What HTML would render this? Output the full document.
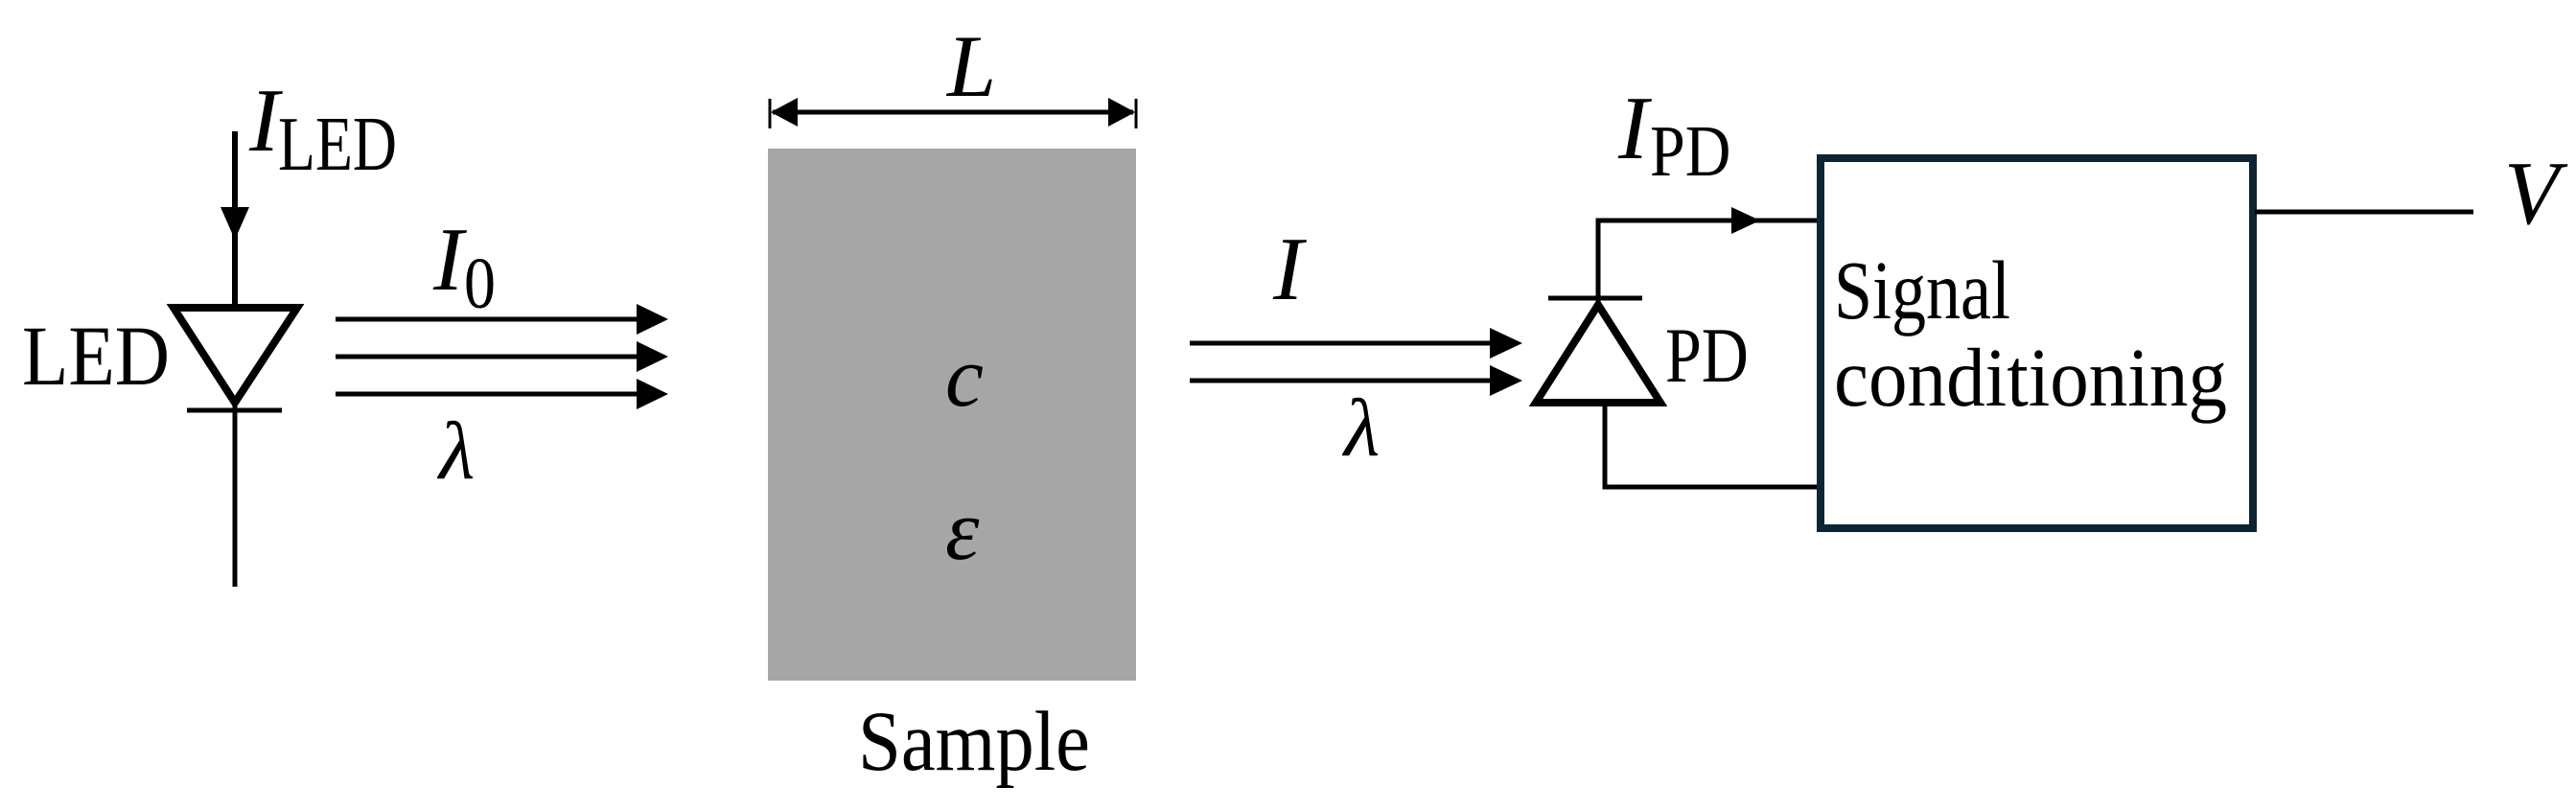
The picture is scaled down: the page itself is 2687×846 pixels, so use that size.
<!DOCTYPE html>
<html><head><meta charset="utf-8"><style>
html,body{margin:0;padding:0;background:#fff;}
svg{display:block;}
text{font-family:"Liberation Serif",serif;fill:#000;}
.it{font-style:italic;}
</style></head><body>
<svg width="2687" height="846" viewBox="0 0 2687 846" xmlns="http://www.w3.org/2000/svg">
<rect width="2687" height="846" fill="#fff"/>
<!-- LED -->
<line x1="245" y1="137" x2="245" y2="320" stroke="#000" stroke-width="6"/>
<polygon points="230,216 260,216 245,250" fill="#000"/>
<polygon points="181,321 310,321 245,420" fill="none" stroke="#000" stroke-width="8" stroke-linejoin="miter"/>
<line x1="195" y1="428" x2="294" y2="428" stroke="#000" stroke-width="5"/>
<line x1="245" y1="420" x2="245" y2="612" stroke="#000" stroke-width="5"/>
<text x="260" y="157" class="it" font-size="94">I</text>
<text transform="translate(290,177) scale(1,1.15)" font-size="70" textLength="124" lengthAdjust="spacingAndGlyphs">LED</text>
<text transform="translate(23,401) scale(1,1.2)" font-size="74" textLength="154" lengthAdjust="spacingAndGlyphs">LED</text>
<!-- LED beams -->
<g stroke="#000" stroke-width="5">
<line x1="350" y1="333" x2="670" y2="333"/>
<line x1="350" y1="372" x2="670" y2="372"/>
<line x1="350" y1="411" x2="670" y2="411"/>
</g>
<polygon points="664,317 697,333 664,349" fill="#000"/>
<polygon points="664,356 697,372 664,388" fill="#000"/>
<polygon points="664,395 697,411 664,427" fill="#000"/>
<text x="452" y="302" class="it" font-size="94">I</text>
<text transform="translate(484,321) scale(1,1.15)" font-size="66">0</text>
<text x="458" y="499" class="it" font-size="86">λ</text>
<!-- Sample -->
<rect x="801" y="155" width="384" height="555" fill="#a6a6a6"/>
<line x1="806" y1="117" x2="1182" y2="117" stroke="#000" stroke-width="5"/>
<line x1="803" y1="103" x2="803" y2="134" stroke="#000" stroke-width="3"/>
<line x1="1185" y1="103" x2="1185" y2="134" stroke="#000" stroke-width="3"/>
<polygon points="804,117 832,102 832,132" fill="#000"/>
<polygon points="1184,117 1156,102 1156,132" fill="#000"/>
<text x="988" y="100" class="it" font-size="92">L</text>
<text x="986" y="423" class="it" font-size="90">c</text>
<text x="986" y="583" class="it" font-size="90">ε</text>
<text transform="translate(895,803) scale(1,1.2)" font-size="74" textLength="242" lengthAdjust="spacingAndGlyphs">Sample</text>
<!-- I beams -->
<g stroke="#000" stroke-width="5">
<line x1="1241" y1="358" x2="1560" y2="358"/>
<line x1="1241" y1="397" x2="1560" y2="397"/>
</g>
<polygon points="1554,342 1588,358 1554,374" fill="#000"/>
<polygon points="1554,381 1588,397 1554,413" fill="#000"/>
<text x="1328" y="312" class="it" font-size="94">I</text>
<text x="1402" y="475" class="it" font-size="86">λ</text>
<!-- PD -->
<polygon points="1667,318 1602,420 1732,420" fill="none" stroke="#000" stroke-width="8"/>
<line x1="1615" y1="311" x2="1713" y2="311" stroke="#000" stroke-width="5"/>
<polyline points="1667,315 1667,230 1899,230" fill="none" stroke="#000" stroke-width="5"/>
<polygon points="1806,216 1836,230 1806,244" fill="#000"/>
<polyline points="1674,423 1674,508 1899,508" fill="none" stroke="#000" stroke-width="5"/>
<text transform="translate(1737,398) scale(1,1.2)" font-size="68">PD</text>
<text x="1688" y="165" class="it" font-size="94">I</text>
<text transform="translate(1721,183) scale(1,1.15)" font-size="66">PD</text>
<!-- Box -->
<rect x="1899" y="165" width="451" height="386" fill="none" stroke="#0e2433" stroke-width="8"/>
<text transform="translate(1913,332) scale(1,1.2)" font-size="72">Signal</text>
<text transform="translate(1913,423) scale(1,1.2)" font-size="72" textLength="410" lengthAdjust="spacingAndGlyphs">conditioning</text>
<line x1="2352" y1="221" x2="2580" y2="221" stroke="#000" stroke-width="5"/>
<text x="2612" y="233" class="it" font-size="94">V</text>
</svg>
</body></html>
